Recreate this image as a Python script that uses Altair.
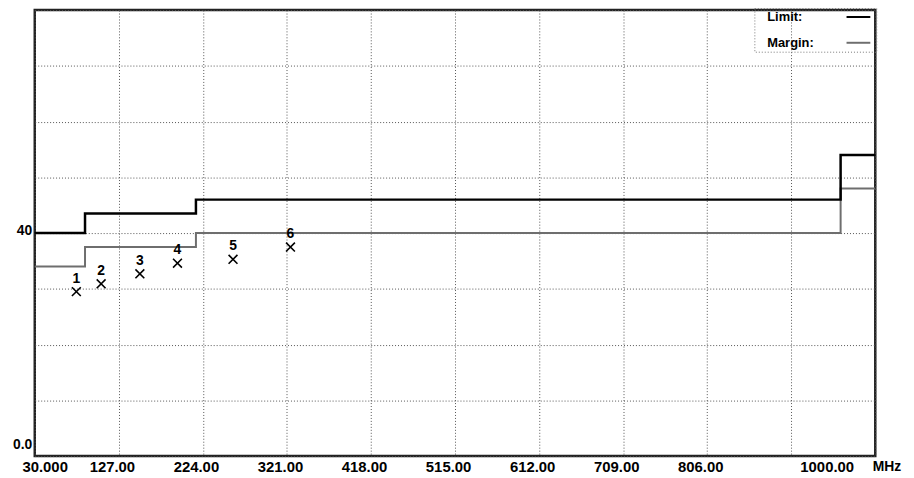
import altair as alt
import pandas as pd

# ---- data ----
limit_freq = [30, 88, 216, 960, 1000]
limit_level = [40, 43.5, 46, 54, 54]
margin_level = [34, 37.5, 40, 48, 48]

peak_freq = [78, 106.6, 151.3, 194.7, 258.8, 325.1]
peak_level = [29.5, 30.9, 32.7, 34.6, 35.3, 37.5]
peak_label = ["1", "2", "3", "4", "5", "6"]

x_ticks = [30, 127, 224, 321, 418, 515, 612, 709, 806, 903, 1000]
x_tick_labels = ["30.000", "127.00", "224.00", "321.00", "418.00", "515.00",
                 "612.00", "709.00", "806.00", "", "1000.00"]
y_ticks = [0, 10, 20, 30, 40, 50, 60, 70, 80]
y_tick_labels = ["0.0", "", "", "", "40", "", "", "", ""]

series_names = ["Limit:", "Margin:"]

lines_df = pd.DataFrame({
    "freq": limit_freq + limit_freq,
    "level": limit_level + margin_level,
    "series": [series_names[0]] * len(limit_freq) + [series_names[1]] * len(limit_freq),
})
peaks_df = pd.DataFrame({"freq": peak_freq, "level": peak_level, "label": peak_label})

FONT = "Liberation Sans"


def label_expr(vals, labels):
    v = ",".join(str(x) for x in vals)
    l = ",".join("'" + s + "'" for s in labels)
    return f"[{l}][indexof([{v}], datum.value)]"


x_scale = alt.Scale(domain=[30, 1000], nice=False, zero=False)
y_scale = alt.Scale(domain=[0, 80], nice=False, zero=True)

x_enc = alt.X(
    "freq:Q", scale=x_scale,
    axis=alt.Axis(
        values=x_ticks, labelExpr=label_expr(x_ticks, x_tick_labels),
        labelOverlap=False, labelFlush=False,
        title="MHz", titleX=845, titleY=4, titleAlign="left", titleBaseline="top",
        titleFont=FONT, titleFontSize=14, titleFontWeight="bold", titleColor="black",
        labelFontSize=15, labelPadding=4, labelBaseline="top",
        labelOffset={"condition": [{"test": "datum.value == 30", "value": 10},
                                   {"test": "datum.value == 1000", "value": -49}],
                     "value": -7},
    ),
)
y_enc = alt.Y(
    "level:Q", scale=y_scale,
    axis=alt.Axis(
        values=y_ticks, labelExpr=label_expr(y_ticks, y_tick_labels), title=None,
        labelOverlap=False, labelFlush=False,
        labelFontSize=14, labelPadding=3,
        labelOffset={"condition": {"test": "datum.value == 0", "value": -12}, "value": -3},
    ),
)

color_enc = alt.Color(
    "series:N",
    scale=alt.Scale(domain=series_names, range=["#000000", "#6e6e6e"]),
    legend=alt.Legend(
        title=None, orient="none", legendX=726, legendY=-2,
        symbolType="M-2,0L2,0", symbolSize=144, symbolStrokeWidth=2,
        rowPadding=12, padding=2,
        labelOffset={"expr": "-99"}, symbolOffset=96,
        labelFont=FONT, labelFontSize=13, labelFontWeight="bold", labelColor="black",
        strokeColor="#777777",
    ),
)

limit_line = alt.Chart(lines_df).transform_filter(
    alt.datum.series == series_names[0]
).mark_line(interpolate="step-after", strokeWidth=2.5).encode(
    x=x_enc, y=y_enc, color=color_enc
)
margin_line = alt.Chart(lines_df).transform_filter(
    alt.datum.series == series_names[1]
).mark_line(interpolate="step-after", strokeWidth=2).encode(
    x=x_enc, y=y_enc, color=color_enc
)

peaks = alt.Chart(peaks_df).mark_point(
    shape="M-1,-1L1,1M-1,1L1,-1", filled=False, stroke="black", strokeWidth=1.6,
    size=80, opacity=1,
).encode(x="freq:Q", y="level:Q")

peak_text = alt.Chart(peaks_df).mark_text(
    dy=-13, font=FONT, fontSize=14, fontWeight="bold", color="black"
).encode(x="freq:Q", y="level:Q", text="label:N")

chart = alt.layer(margin_line, limit_line, peaks, peak_text).properties(
    width=848, height=450,
    autosize=alt.AutoSizeParams(type="none"),
    padding={"left": 27, "top": 0, "right": 31, "bottom": 18},
    background="white",
).configure_view(
    stroke="#222222", strokeWidth=2.5
).configure_axis(
    grid=True, gridColor="#555555", gridDash=[1, 2], gridWidth=1,
    domain=False, ticks=False,
    labelFont=FONT, labelFontWeight="bold", labelColor="black",
).configure_legend(
    strokeDash=[1, 2], strokeWidth=1,
)

chart.save("out.html", embed_options={"renderer": "svg", "actions": False})
